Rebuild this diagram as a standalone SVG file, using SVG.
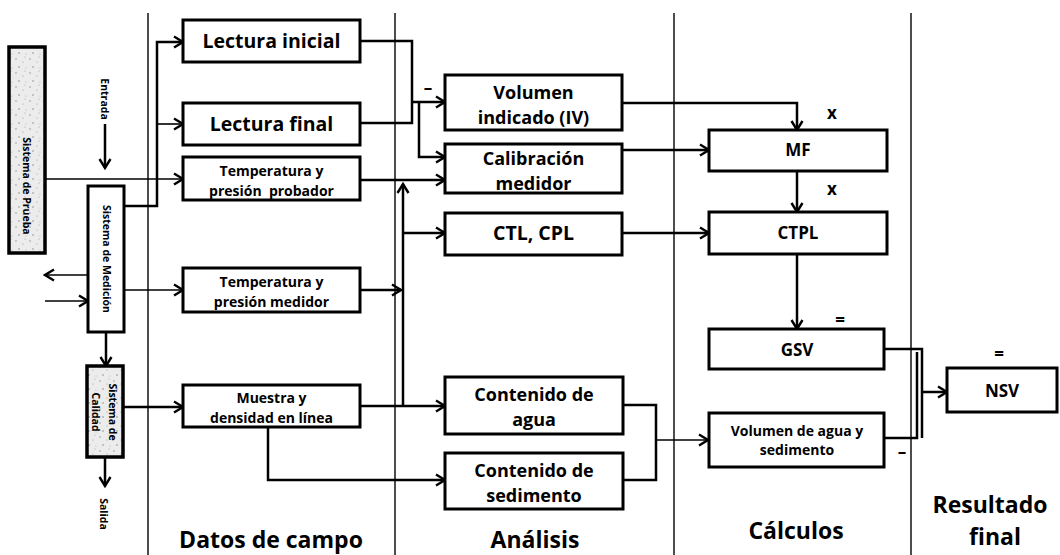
<svg xmlns="http://www.w3.org/2000/svg" width="1060" height="555" viewBox="0 0 1060 555">
<defs>
<marker id="arr" markerUnits="userSpaceOnUse" markerWidth="14" markerHeight="14" viewBox="0 0 14 14" refX="12" refY="7" orient="auto">
<path d="M3,1.5 L12,7 L3,12.5" fill="none" stroke="#000" stroke-width="2.4"/>
</marker>
<pattern id="speck" width="14" height="14" patternUnits="userSpaceOnUse">
<rect width="14" height="14" fill="#ececec"/>
<circle cx="2" cy="3" r="0.7" fill="#888"/>
<circle cx="9" cy="6" r="0.6" fill="#999"/>
<circle cx="5" cy="11" r="0.7" fill="#777"/>
<circle cx="12" cy="12" r="0.5" fill="#aaa"/>
<circle cx="11" cy="1" r="0.5" fill="#999"/>
</pattern>
<style>
.box{fill:#fff;stroke:#000;stroke-width:3}
.sbox{fill:url(#speck);stroke:#000;stroke-width:3.5}
.c{fill:none;stroke:#000;stroke-width:2.5}
.thin{fill:none;stroke:#000;stroke-width:1.6}
.div{fill:none;stroke:#000;stroke-width:1.4}
text{font-family:"Open Sans","Liberation Sans",sans-serif;font-weight:bold;fill:#000;text-anchor:middle}
.big{font-size:19.5px}
.big2{font-size:18px}
.sm{font-size:14px}
.mid{font-size:17px}
.hd{font-size:23px}
.vt{font-size:10.5px}
</style>
</defs>

<g id="dividers">
<line class="div" x1="148" y1="13" x2="148" y2="555"/>
<line class="div" x1="395" y1="13" x2="395" y2="555"/>
<line class="div" x1="674" y1="13" x2="674" y2="555"/>
<line class="div" x1="911" y1="13" x2="911" y2="555"/>
</g>

<g id="connectors">
<path class="c" d="M105,124 V168" stroke-width="4" marker-end="url(#arr)"/>
<path class="thin" d="M45,179 H183" marker-end="url(#arr)"/>
<path class="c" d="M124,206 H157 V42 H183" marker-end="url(#arr)"/>
<path class="thin" d="M157,124 H183" marker-end="url(#arr)"/>
<path class="thin" d="M88,275 H45" marker-end="url(#arr)"/>
<path class="thin" d="M45,301 H88" marker-end="url(#arr)"/>
<path class="thin" d="M124,290 H183" marker-end="url(#arr)"/>
<path class="c" d="M106,332 V366" stroke-width="4" marker-end="url(#arr)"/>
<path class="c" d="M105,457 V486" stroke-width="4" marker-end="url(#arr)"/>
<path class="c" d="M123,407 H183" marker-end="url(#arr)"/>
<path class="c" d="M360,41 H412 V123 H360"/>
<path class="c" d="M412,102 H445" marker-end="url(#arr)"/>
<path class="c" d="M419,102 V157 H445" marker-end="url(#arr)"/>
<path class="c" d="M360,180 H445" marker-end="url(#arr)"/>
<path class="c" d="M403,406 V184" stroke-width="4" marker-end="url(#arr)"/>
<path class="c" d="M403,233 H445" marker-end="url(#arr)"/>
<path class="c" d="M360,290 H401" marker-end="url(#arr)"/>
<path class="c" d="M360,406 H445" marker-end="url(#arr)"/>
<path class="c" d="M268,427 V480 H445" marker-end="url(#arr)"/>
<path class="c" d="M623,405 H656 V480 H623"/>
<path class="thin" d="M656,440 H708" marker-end="url(#arr)"/>
<path class="c" d="M622,103 H797 V130" marker-end="url(#arr)"/>
<path class="c" d="M622,150 H709" marker-end="url(#arr)"/>
<path class="c" d="M622,233 H709" marker-end="url(#arr)"/>
<path class="c" d="M797,171 V212" marker-end="url(#arr)"/>
<path class="c" d="M797,254 V329" marker-end="url(#arr)"/>
<path class="c" d="M884,349 H922 V438"/>
<path class="c" d="M884,438 H917 V352"/>
<path class="c" d="M922,392 H947" marker-end="url(#arr)"/>
</g>

<g id="sistema-prueba">
<rect class="sbox" x="9" y="47" width="36" height="206"/>
<text class="vt" transform="translate(27,186) rotate(90)" dy="4">Sistema de Prueba</text>
</g>
<g id="entrada">
<text class="vt" transform="translate(105,99) rotate(90)" dy="4">Entrada</text>
</g>
<g id="sistema-medicion">
<rect class="box" x="88" y="186" width="36" height="146" stroke-width="3.5"/>
<text class="vt" transform="translate(107,259) rotate(90)" dy="4">Sistema de Medición</text>
</g>
<g id="sistema-calidad">
<rect class="sbox" x="87" y="366" width="36" height="91"/>
<text class="vt" transform="translate(113,412) rotate(90)" dy="4">Sistema de</text>
<text class="vt" transform="translate(96,412) rotate(90)" dy="4">Calidad</text>
</g>
<g id="salida">
<text class="vt" transform="translate(104,514) rotate(90)" dy="4">Salida</text>
</g>

<g id="lectura-inicial">
<rect class="box" x="183" y="20" width="177" height="42"/>
<text class="big" x="271.5" y="48">Lectura inicial</text>
</g>
<g id="lectura-final">
<rect class="box" x="183" y="103" width="177" height="42"/>
<text class="big" x="271.5" y="131">Lectura final</text>
</g>
<g id="temp-probador">
<rect class="box" x="183" y="157" width="177" height="43"/>
<text class="sm" x="271.5" y="176">Temperatura y</text>
<text class="sm" x="271.5" y="195.5" xml:space="preserve">presión  probador</text>
</g>
<g id="temp-medidor">
<rect class="box" x="183" y="268" width="177" height="44"/>
<text class="sm" x="271.5" y="287">Temperatura y</text>
<text class="sm" x="271.5" y="306.5">presión medidor</text>
</g>
<g id="muestra">
<rect class="box" x="183" y="385" width="177" height="42"/>
<text class="sm" x="271.5" y="403">Muestra y</text>
<text class="sm" x="271.5" y="422.5">densidad en línea</text>
</g>

<g id="volumen-indicado">
<rect class="box" x="445" y="75" width="177" height="55"/>
<text class="big2" x="533.5" y="99">Volumen</text>
<text class="big2" x="533.5" y="124">indicado (IV)</text>
</g>
<g id="calibracion">
<rect class="box" x="445" y="144" width="177" height="49"/>
<text class="big2" x="533.5" y="165">Calibración</text>
<text class="big2" x="533.5" y="189.5">medidor</text>
</g>
<g id="ctl-cpl">
<rect class="box" x="445" y="213" width="177" height="42"/>
<text class="big" x="533.5" y="240">CTL, CPL</text>
</g>
<g id="contenido-agua">
<rect class="box" x="445" y="377" width="178" height="57"/>
<text class="big2" x="534" y="401">Contenido de</text>
<text class="big2" x="534" y="426">agua</text>
</g>
<g id="contenido-sedimento">
<rect class="box" x="445" y="453" width="178" height="56"/>
<text class="big2" x="534" y="477">Contenido de</text>
<text class="big2" x="534" y="502">sedimento</text>
</g>

<g id="mf">
<rect class="box" x="709" y="130" width="178" height="41"/>
<text class="mid" x="798" y="156">MF</text>
</g>
<g id="ctpl">
<rect class="box" x="709" y="212" width="178" height="42"/>
<text class="mid" x="798" y="239">CTPL</text>
</g>
<g id="gsv">
<rect class="box" x="709" y="329" width="175" height="40"/>
<text class="mid" x="797" y="356">GSV</text>
</g>
<g id="volumen-agua">
<rect class="box" x="709" y="413" width="175" height="54"/>
<text class="sm" x="797" y="436">Volumen de agua y</text>
<text class="sm" x="797" y="455">sedimento</text>
</g>
<g id="nsv">
<rect class="box" x="947" y="368" width="110" height="44"/>
<text class="mid" x="1002" y="397">NSV</text>
</g>

<g id="operators">
<text class="mid" x="832" y="119">x</text>
<text class="mid" x="832" y="195">x</text>
<text class="mid" x="840" y="326">=</text>
<text class="mid" x="999" y="360">=</text>
<text class="mid" x="428" y="94">–</text>
<text class="mid" x="902" y="458">–</text>
</g>

<g id="headers">
<text class="hd" x="271" y="548">Datos de campo</text>
<text class="hd" x="535" y="548">Análisis</text>
<text class="hd" x="796" y="539">Cálculos</text>
<text class="hd" x="990" y="513">Resultado</text>
<text class="hd" x="995" y="545">final</text>
</g>
</svg>
